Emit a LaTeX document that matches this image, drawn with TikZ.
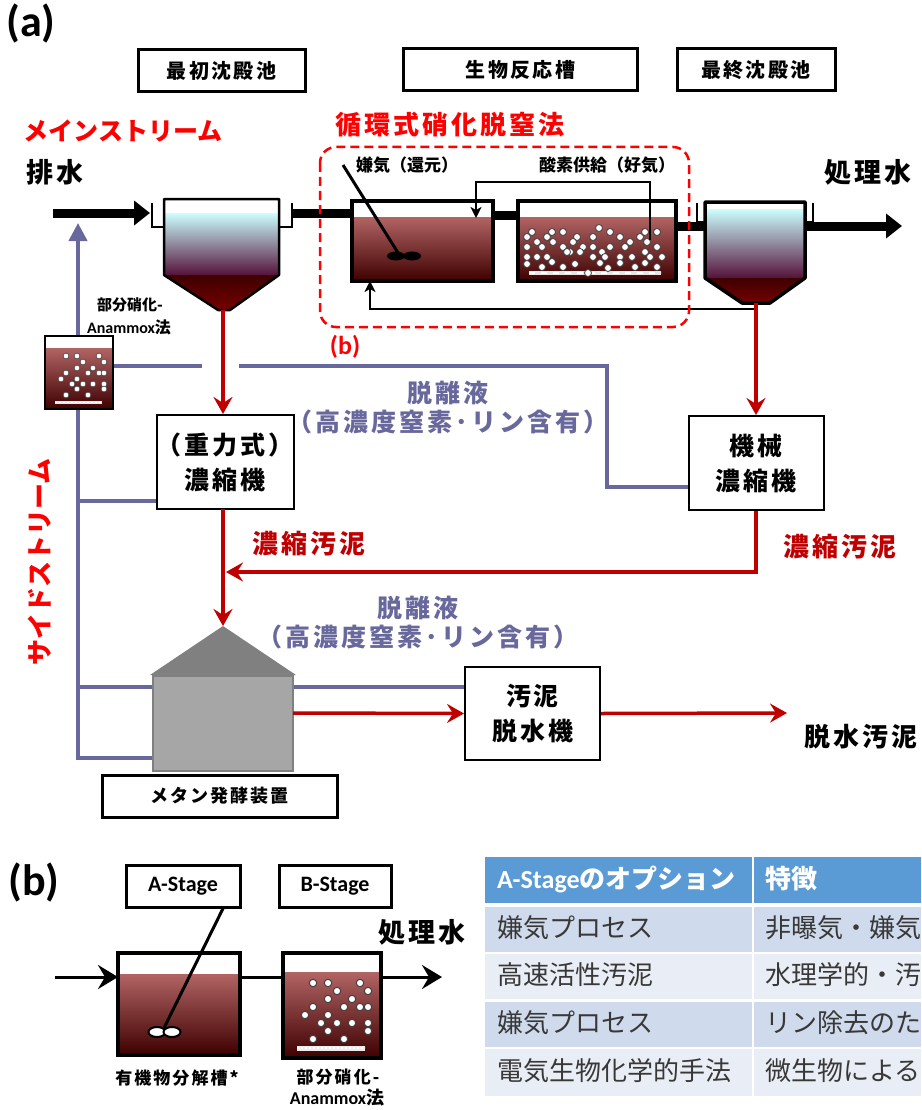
\documentclass[tikz,border=0pt]{standalone}
\usepackage{fontspec}
\usetikzlibrary{arrows.meta}
\newfontfamily\jp{Noto Sans CJK JP}
\newfontfamily\jpw{Noto Sans CJK JP}[LetterSpace=12]
\newfontfamily\lat{Carlito}
\newcommand\fsz[2]{\fontsize{#1}{#2}\selectfont}

\definecolor{lred}{RGB}{255,0,0}
\definecolor{sred}{RGB}{192,0,0}
\definecolor{sidep}{RGB}{104,104,156}
\definecolor{mtop}{RGB}{178,100,100}
\definecolor{mbot}{RGB}{62,0,0}
\definecolor{cone}{RGB}{118,0,0}
\definecolor{cyanw}{RGB}{204,255,255}
\definecolor{murk}{RGB}{84,18,58}
\definecolor{hdr}{RGB}{91,155,213}
\definecolor{band1}{RGB}{207,219,236}
\definecolor{band2}{RGB}{233,238,246}
\definecolor{roofg}{RGB}{128,128,128}
\definecolor{bodyg}{RGB}{166,166,166}

\begin{document}
\begin{tikzpicture}[x=1pt,y=-1pt,
  lbl/.style={inner sep=0pt,font=\jpw\bfseries},
  hbox/.style={draw,line width=3pt,fill=white,inner sep=0pt,font=\jpw\bfseries\fsz{20}{24}},
  ubox/.style={draw,line width=2pt,fill=white,inner sep=0pt,align=center,font=\jpw\bfseries\fsz{25}{35}},
  pipe/.style={line width=9pt},
  bigarr/.style={pipe,-{Triangle[length=16pt,width=24pt]}},
  sludge/.style={draw=sred,line width=3.5pt},
  sludgearr/.style={sludge,-{Stealth[length=17pt,width=19pt,inset=6pt]}},
  ret/.style={line width=2.5pt},
  retarr/.style={ret,-{Stealth[length=11pt,width=11pt,inset=3pt]}},
  side/.style={draw=sidep,line width=4pt},
  thinarr/.style={line width=3pt,-{Stealth[length=20pt,width=24pt,inset=7pt]}},
  bub/.style={fill=white,draw=black!75,line width=0.8pt},
  tankline/.style={line width=3.5pt},
  cell/.style={anchor=west,inner sep=0pt,font=\jp\fsz{26}{30},text=black!78},
]
\fill[white] (0,0) rectangle (921,1110);
\useasboundingbox (0,0) rectangle (921,1110);

% ---------------- (a) titles ----------------
\node[inner sep=0pt,font=\lat\bfseries\fsz{44}{46}] (ta) at (31,24) {(a)};
\node[hbox,minimum width=167pt,minimum height=42pt] (h1) at (221.5,71) {最初沈殿池};
\node[hbox,minimum width=234pt,minimum height=42pt] (h2) at (520.5,70) {生物反応槽};
\node[hbox,minimum width=158pt,minimum height=42pt] (h3) at (756,70) {最終沈殿池};

\node[lbl,font=\jp\bfseries\fsz{25}{28},text=lred] (ms) at (123,131) {メインストリーム};
\node[lbl,font=\jpw\bfseries\fsz{27}{30}] (inw) at (55,172) {排水};
\node[lbl,font=\jpw\bfseries\fsz{27}{30}] (outw) at (868,172) {処理水};
\node[lbl,font=\jpw\bfseries\fsz{26}{30},text=lred] (cy) at (450,125) {循環式硝化脱窒法};
\node[lbl,font=\jp\bfseries\fsz{17}{20}] (anx) at (407,165) {嫌気（還元）};
\node[lbl,font=\jp\bfseries\fsz{17}{20}] (aer) at (607,165) {酸素供給（好気）};

% ---------------- primary clarifier ----------------
\fill[white] (164,199) rectangle (279,213);
\shade[top color=cyanw,bottom color=murk] (164,213) rectangle (279,275);
\shade[top color=mbot,bottom color=cone] (164,275) -- (279,275) -- (230,310) -- (218,310) -- cycle;
\draw[line width=2.5pt,line join=round] (164,199) -- (164,275) -- (218,310) -- (230,310) -- (279,275) -- (279,199) -- cycle;
\draw[line width=2.5pt] (164,227) -| (152,203);
\draw[line width=2.5pt] (279,227) -| (292,203);
\coordinate (inlet) at (53,213);
\coordinate (pcin) at (150,213);
\coordinate (pcout) at (292,213);
\coordinate (pcbot) at (223,310);

% ---------------- anoxic / aerobic tanks ----------------
\fill[white] (352,201) rectangle (493,217);
\shade[top color=mtop,bottom color=mbot] (352,217) rectangle (493,281);
\draw[tankline] (352,201) rectangle (493,281);
\coordinate (axin) at (352,213);
\draw[line width=3pt] (343,165) -- (400,256);
\fill (396,256) ellipse (9 and 4.5);
\fill (412,256) ellipse (9 and 4.5);

\fill[white] (518,201) rectangle (676,217);
\shade[top color=mtop,bottom color=mbot] (518,217) rectangle (676,281);
\draw[line width=4pt,white!80!gray] (529,273) -- (661,273);
\draw[line width=2pt,white,dash pattern=on 6pt off 6pt] (529,273) -- (661,273);
\foreach \p in {(532,232),(527,237),(552,232),(547,237),(563,232),(577,237),(593,237),(599,228),
  (610,232),(620,237),(640,237),(645,232),(657,232),(647,242),(527,247),(537,242),
  (542,247),(553,242),(563,247),(570,252),(573,242),(583,247),(593,247),(602,252),(610,247),
  (625,247),(630,242),(645,252),(657,247),(527,257),(537,257),
  (547,257),(552,262),(567,252),(580,252),(593,257),(605,257),(620,257),
  (632,257),(650,257),(662,257),(527,264),(542,267),(563,267),(575,264),
  (600,263),(608,268),(620,263),(635,267),(645,263),(657,267),(588,273)}
  \draw[bub] \p circle (3.5);
\draw[tankline] (518,201) rectangle (676,281);

% ---------------- final clarifier ----------------
\fill[white] (705,202) rectangle (805,209);
\shade[top color=cyanw,bottom color=murk] (705,209) rectangle (805,278);
\shade[top color=mbot,bottom color=cone] (705,278) -- (805,278) -- (770,303) -- (742,303) -- cycle;
\draw[tankline,line join=round] (705,202) -- (705,278) -- (742,303) -- (770,303) -- (805,278) -- (805,202) -- cycle;
\draw[line width=2.5pt] (705,222) -| (697,203);
\draw[line width=2.5pt] (805,222) -| (813,203);
\coordinate (fcbot) at (756,303);

% main stream pipes
\draw[bigarr] (inlet) -- (pcin);
\draw[pipe] (pcout) -- (axin);
\draw[pipe] (493,215) -- (518,215);
\draw[pipe] (676,226) -- (705,226);
\coordinate (outlet) at (902,226);
\draw[bigarr] (805,226) -- (outlet);

% air supply and return sludge
\draw[retarr] (650,240) |- (476,182) -- (476,218);
\draw[retarr] (756,309) -| (370,281);

% nitrification-denitrification frame
\draw[lred,line width=2.5pt,dash pattern=on 9pt off 5pt,rounded corners=16pt] (320,147) rectangle (689,327);
\node[inner sep=0pt,font=\lat\bfseries\fsz{26}{28},text=lred] (tb) at (345,347) {(b)};

% ---------------- side stream ----------------
\node[inner sep=0pt,font=\jp\bfseries\fsz{15}{18}] (pn1) at (130,305) {部分硝化-};
\node[inner sep=0pt,font=\bfseries\fsz{16}{18}] (pn2) at (129,327) {{\lat Anammox}{\jp 法}};

\draw[side,-{Triangle[length=18pt,width=18pt]}] (153,758) -| (78,223);
\draw[side] (153,687) -- (78,687);
\draw[side] (158,501) -- (78,501);
\draw[side] (113,366) -- (202,366);
\draw[side] (239,366) -| (607,487) -- (688,487);
\draw[side] (293,687) -- (465,687);

% small partial nitritation tank
\fill[white] (45,336) rectangle (113,348);
\shade[top color=mtop,bottom color=mbot] (45,348) rectangle (113,409);
\draw[line width=3pt,white!82!gray] (55,402) -- (102,402);
\draw[line width=1pt,white,dash pattern=on 2pt off 2pt] (55,402) -- (102,402);
\foreach \p in {(66,356),(77,356),(99,356),(83,362),(104,362),(77,368),(93,368),(66,373),(88,373),
  (99,373),(104,373),(61,379),(77,379),(72,384),(83,384),(93,384),(104,384),(77,389),(104,389),
  (66,395),(88,395)}
  \draw[bub,line width=0.6pt] \p circle (2.9);
\draw[line width=2.5pt] (45,336) rectangle (113,409);

\node[lbl,font=\jp\bfseries\fsz{26}{30},text=lred,rotate=90] (ss) at (40,562) {サイドストリーム};

% thickeners and dewatering
\node[ubox,minimum width=134pt,minimum height=94pt] (gt) at (225,462) {（重力式）\\濃縮機};
\node[ubox,minimum width=135pt,minimum height=94pt] (mt) at (756,463) {機械\\濃縮機};
\node[ubox,minimum width=135pt,minimum height=93pt] (dw) at (532.5,713.5) {汚泥\\脱水機};

\node[lbl,font=\jpw\bfseries\fsz{25}{28},text=sidep,align=center] (sep1) at (448,408) {脱離液\\[1pt]（高濃度窒素･リン含有）};
\node[lbl,font=\jpw\bfseries\fsz{25}{28},text=sidep,align=center] (sep2) at (418,623) {脱離液\\[1pt]（高濃度窒素･リン含有）};
\node[lbl,font=\jpw\bfseries\fsz{26}{30},text=sred] (ts1) at (309,544) {濃縮汚泥};
\node[lbl,font=\jpw\bfseries\fsz{26}{30},text=sred] (ts2) at (840,547) {濃縮汚泥};
\node[lbl,font=\jpw\bfseries\fsz{26}{30}] (dws) at (861,737) {脱水汚泥};

% digester
\fill[roofg] (150,675) -- (296,675) -- (223,626) -- cycle;
\coordinate (apex) at (223,626);
\draw[fill=bodyg,draw=black!50,line width=1.5pt] (153,676) rectangle (293,771);
\node[hbox,minimum width=235pt,minimum height=42pt,font=\jpw\bfseries\fsz{18}{22}] (mlab) at (219.5,796) {メタン発酵装置};

% sludge lines
\draw[sludgearr] (pcbot) -- (pcbot |- gt.north);
\draw[sludgearr] (fcbot) -- (mt.north);
\draw[sludgearr] (223,509) -- (apex);
\draw[sludgearr] (mt.south) |- (226,572);
\draw[sludgearr] (293,713) -- (dw.west);
\draw[sludgearr] (dw.east) -- (787,713);

% ---------------- (b) ----------------
\node[inner sep=0pt,font=\lat\bfseries\fsz{44}{46}] (tbb) at (34,882) {(b)};
\node[hbox,minimum width=114pt,minimum height=42pt,font=\lat\bfseries\fsz{22}{24}] (as) at (183,886) {A-Stage};
\node[hbox,minimum width=112pt,minimum height=42pt,font=\lat\bfseries\fsz{22}{24}] (bs) at (335,886) {B-Stage};
\node[lbl,font=\jpw\bfseries\fsz{27}{30}] (outb) at (422,932) {処理水};

\fill[white] (118,953) rectangle (240,974);
\shade[top color=mtop,bottom color=mbot] (118,974) rectangle (240,1055);
\draw[tankline] (118,953) rectangle (240,1055);
\draw[line width=3pt] (as.south -| 223,0) -- (163,1030);
\draw[fill=white,line width=2pt] (157,1032) ellipse (8.5 and 5);
\draw[fill=white,line width=2pt] (172,1032) ellipse (8.5 and 5);

\fill[white] (283,953) rectangle (381,972);
\shade[top color=mtop,bottom color=mbot] (283,972) rectangle (381,1058);
\draw[line width=5pt,white!85!gray] (297,1048) -- (365,1048);
\draw[line width=1.5pt,white,dash pattern=on 2pt off 2pt] (297,1048) -- (365,1048);
\foreach \p in {(313,983),(328,983),(360,983),(337,991),(368,991),(328,999),(352,999),(313,1007),
  (344,1007),(360,1007),(368,1007),(305,1015),(328,1015),(321,1023),(337,1023),(352,1023),
  (368,1023),(328,1031),(368,1031),(313,1039),(344,1039)}
  \draw[bub,line width=1pt] \p circle (3.7);
\draw[tankline] (283,953) rectangle (381,1058);

\draw[thinarr] (55,977) -- (118,977);
\draw[line width=3pt] (240,977) -- (283,977);
\draw[thinarr] (381,977) -- (442,977);

\node[inner sep=0pt,font=\jpw\bfseries\fsz{17}{20}] (an1) at (177,1078) {有機物分解槽*};
\node[inner sep=0pt,font=\jpw\bfseries\fsz{17}{20}] (bn1) at (338,1077) {部分硝化-};
\node[inner sep=0pt,font=\bfseries\fsz{18}{20}] (bn2) at (337,1098) {{\lat Anammox}{\jpw 法}};

% options table
\begin{scope}
\clip (480,850) rectangle (921,1100);
\fill[hdr] (485,857) rectangle (921,903);
\fill[band1] (485,907) rectangle (921,952);
\fill[band2] (485,954) rectangle (921,999);
\fill[band1] (485,1002) rectangle (921,1047);
\fill[band2] (485,1049) rectangle (921,1096);
\draw[white,line width=2pt] (753,857) -- (753,1096);
\node[cell,text=white,font=\bfseries\fsz{26}{30}] (c0a) at (497,879) {{\lat A-Stage}{\jp のオプション}};
\node[cell,text=white,font=\jp\bfseries\fsz{26}{30}] (c0b) at (765,879) {特徴};
\node[cell] (c1a) at (497,928) {嫌気プロセス};
\node[cell] (c1b) at (765,928) {非曝気・嫌気};
\node[cell] (c2a) at (497,975) {高速活性汚泥};
\node[cell] (c2b) at (765,975) {水理学的・汚};
\node[cell] (c3a) at (497,1023) {嫌気プロセス};
\node[cell] (c3b) at (765,1023) {リン除去のた};
\node[cell] (c4a) at (497,1071) {電気生物化学的手法};
\node[cell] (c4b) at (765,1071) {微生物による};
\end{scope}
\end{tikzpicture}
\end{document}
